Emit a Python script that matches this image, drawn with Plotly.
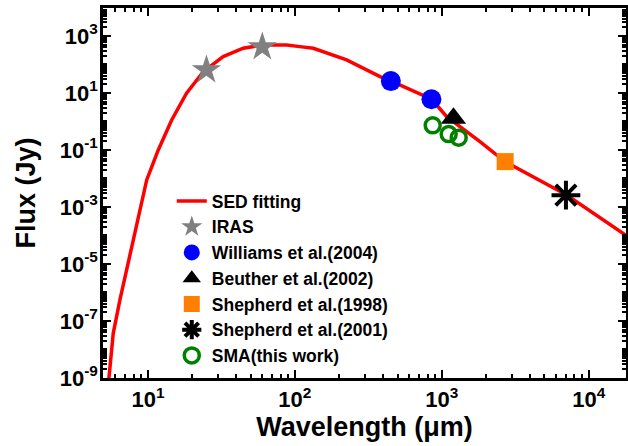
import plotly.graph_objects as go

# SED fitting curve
sed_wl = [5.3, 5.45, 5.80, 6.44, 7.22, 8.15, 9.80, 11.75, 14.5, 18.3, 23.8, 32.5, 44.5, 61, 75, 88, 108, 133.5,
          225, 380, 449, 853, 1080, 1820, 2692, 7080, 18520, 20000]
sed_flux = [3e-10, 1.1e-9, 3.7e-8, 5.5e-7, 8.1e-6, 1.56e-4, 8.9e-3, 0.1, 1.13, 9.75, 55.8, 188, 370, 483, 500, 483, 422, 370,
            144, 37.3, 26.3, 6.0, 1.47, 0.195, 0.0389, 0.00264, 9.1e-5, 7.0e-5]

iras_wl = [25, 60]
iras_flux = [64, 411]
williams_wl = [450, 850]
williams_flux = [26, 6.0]
beuther_wl = [1200]
beuther_flux = [1.3]
shep98_wl = [2700]
shep98_flux = [0.039]
shep01_wl = [7000]
shep01_flux = [0.0026]
sma_wl = [867, 1114, 1303]
sma_flux = [0.73, 0.36, 0.27]

xtick_vals = [10, 100, 1000, 10000]
xtick_text = ["10<sup>1</sup>", "10<sup>2</sup>", "10<sup>3</sup>", "10<sup>4</sup>"]
ytick_exps = [3, 1, -1, -3, -5, -7, -9]

FONT = "Liberation Sans"

fig = go.Figure()
fig.add_trace(go.Scatter(x=sed_wl, y=sed_flux, mode="lines", name="<b>SED fitting</b>",
                         line=dict(color="#ff0000", width=3.5)))
fig.add_trace(go.Scatter(x=iras_wl, y=iras_flux, mode="markers", name="<b>IRAS</b>",
                         marker=dict(symbol="star", size=22, color="#808080")))
fig.add_trace(go.Scatter(x=williams_wl, y=williams_flux, mode="markers", name="<b>Williams et al.(2004)</b>",
                         marker=dict(symbol="circle", size=20, color="#0000ff")))
fig.add_trace(go.Scatter(x=beuther_wl, y=beuther_flux, mode="markers", name="<b>Beuther et al.(2002)</b>",
                         marker=dict(symbol="triangle-up", size=22, color="#000000")))
fig.add_trace(go.Scatter(x=shep98_wl, y=shep98_flux, mode="markers", name="<b>Shepherd et al.(1998)</b>",
                         marker=dict(symbol="square", size=17, color="#ff8000")))
fig.add_trace(go.Scatter(x=shep01_wl, y=shep01_flux, mode="markers", name="<b>Shepherd et al.(2001)</b>",
                         marker=dict(symbol="asterisk-open", size=24, color="#000000",
                                     line=dict(color="#000000", width=4))))
fig.add_trace(go.Scatter(x=sma_wl, y=sma_flux, mode="markers", name="<b>SMA(this work)</b>",
                         marker=dict(symbol="circle-open", size=15, color="#008000",
                                     line=dict(color="#008000", width=3.5))))

x_minor = [m * 10 ** e for e in range(0, 5) for m in range(2, 10)]
y_minor = [m * 10 ** e for e in range(-10, 4) for m in range(1, 10)]

fig.update_layout(
    width=628, height=446,
    margin=dict(l=103, r=2, t=8, b=68),
    paper_bgcolor="white", plot_bgcolor="white",
    font=dict(family=FONT, color="black"),
    showlegend=True,
    legend=dict(x=0.1315, y=0.527, xanchor="left", yanchor="top",
                font=dict(family=FONT, size=17.5, color="black"),
                bgcolor="rgba(0,0,0,0)", tracegroupgap=0, itemsizing="trace"),
    xaxis=dict(type="log", range=[0.6937, 4.254], automargin=False,
               tickmode="array", tickvals=xtick_vals, ticktext=xtick_text,
               ticks="inside", ticklen=8, tickwidth=2, tickcolor="black",
               minor=dict(tickmode="array", tickvals=x_minor, ticks="inside", ticklen=4,
                          tickwidth=2, tickcolor="black"),
               showline=True, linecolor="black", linewidth=2.5, mirror="ticks",
               showgrid=False, zeroline=False, ticklabelstandoff=0,
               tickfont=dict(family=FONT, size=22, color="black", weight="bold"),
               title=dict(text="<b>Wavelength (μm)</b>", font=dict(family=FONT, size=27), standoff=2)),
    yaxis=dict(type="log", range=[-9, 3.98], automargin=False,
               tickmode="array", tickvals=[10.0 ** e for e in ytick_exps],
               ticktext=["10<sup>%d</sup>" % e for e in ytick_exps],
               ticks="inside", ticklen=8, tickwidth=2, tickcolor="black",
               minor=dict(tickmode="array", tickvals=y_minor, ticks="inside", ticklen=4,
                          tickwidth=1.5, tickcolor="black"),
               showline=True, linecolor="black", linewidth=2.5, mirror="ticks",
               showgrid=False, zeroline=False, ticklabelstandoff=-2,
               tickfont=dict(family=FONT, size=22, color="black", weight="bold"),
               title=dict(text="<b>Flux (Jy)</b>", font=dict(family=FONT, size=27), standoff=17)),
)

fig.write_html("out.html", config={"displayModeBar": False},
               post_script="document.body.style.margin='0';document.body.style.overflow='hidden';")
